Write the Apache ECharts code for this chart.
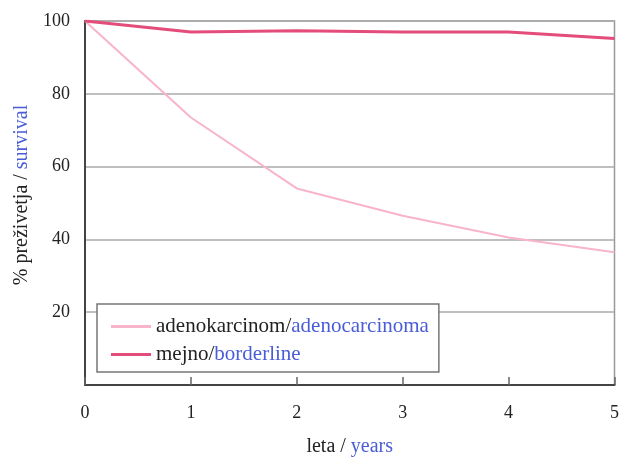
<!DOCTYPE html>
<html>
<head>
<meta charset="utf-8">
<script src="https://cdn.jsdelivr.net/npm/echarts@6/dist/echarts.min.js"></script>
<style>
html,body{margin:0;padding:0;background:#fff;}
#chart{width:622px;height:462px;}
</style>
</head>
<body>
<div id="chart"></div>
<script>
var years = [0, 1, 2, 3, 4, 5];
var adenocarcinoma = [100, 73.5, 54, 46.5, 40.5, 36.5];
var borderline = [100, 97, 97.3, 97, 97, 95.2];
var seriesNames = ['adenokarcinom/adenocarcinoma', 'mejno/borderline'];
var yTicks = [0, 20, 40, 60, 80, 100];

var serif = '"Liberation Serif", "DejaVu Serif", serif';
var blue = '#4a5cd6';
var colA = '#f8b4c9';
var colB = '#e44c7c';
var chart = echarts.init(document.getElementById('chart'));

function pairs(xs, ys) { return xs.map(function (x, i) { return [x, ys[i]]; }); }

function rich(size) {
  return {
    k: { color: '#222', fontFamily: serif, fontSize: size },
    b: { color: blue, fontFamily: serif, fontSize: size }
  };
}

chart.setOption({
  animation: false,
  backgroundColor: '#fff',
  grid: { left: 85, right: 5, top: 21, bottom: 77, show: true, borderColor: '#999', borderWidth: 1.5 },
  legend: {
    orient: 'vertical',
    left: 97, top: 304,
    padding: [12, 10, 7, 14],
    itemGap: 7,
    itemWidth: 40, itemHeight: 3,
    itemTextGap: 8,
    icon: 'rect',
    backgroundColor: '#fff',
    borderColor: '#777', borderWidth: 1.5,
    data: seriesNames,
    formatter: function (name) {
      var p = name.split('/');
      return '{k|' + p[0] + '/}{b|' + p[1] + '}';
    },
    textStyle: { rich: rich(21) }
  },
  xAxis: {
    type: 'value', min: 0, max: 5, interval: 1,
    name: '{k|leta / }{b|years}',
    nameLocation: 'middle', nameGap: 52,
    nameTextStyle: { rich: rich(20) },
    axisLine: { show: true, lineStyle: { color: '#444', width: 2 } },
    axisTick: { show: true, inside: true, length: 8, lineStyle: { color: '#666', width: 1.5 } },
    axisLabel: { margin: 19, color: '#222', fontFamily: serif, fontSize: 18 },
    splitLine: { show: false }
  },
  yAxis: {
    type: 'value', min: yTicks[0], max: yTicks[yTicks.length - 1], interval: 20,
    name: '{k|% preživetja / }{b|survival}',
    nameLocation: 'middle', nameGap: 53,
    nameTextStyle: { rich: rich(20), padding: [0, 0, 0, 16] },
    axisLine: { show: true, lineStyle: { color: '#444', width: 2 } },
    axisTick: { show: false },
    axisLabel: { margin: 15, color: '#222', fontFamily: serif, fontSize: 18,
      formatter: function (v) { return v === 0 ? '' : String(v); } },
    splitLine: { show: true, lineStyle: { color: '#aaa', width: 1.5 } }
  },
  series: [
    {
      name: seriesNames[0], type: 'line', symbol: 'none',
      data: pairs(years, adenocarcinoma),
      lineStyle: { color: colA, width: 2 },
      itemStyle: { color: colA },
      z: 3
    },
    {
      name: seriesNames[1], type: 'line', symbol: 'none',
      data: pairs(years, borderline),
      lineStyle: { color: colB, width: 3 },
      itemStyle: { color: colB },
      z: 4
    }
  ]
});
</script>
</body>
</html>
